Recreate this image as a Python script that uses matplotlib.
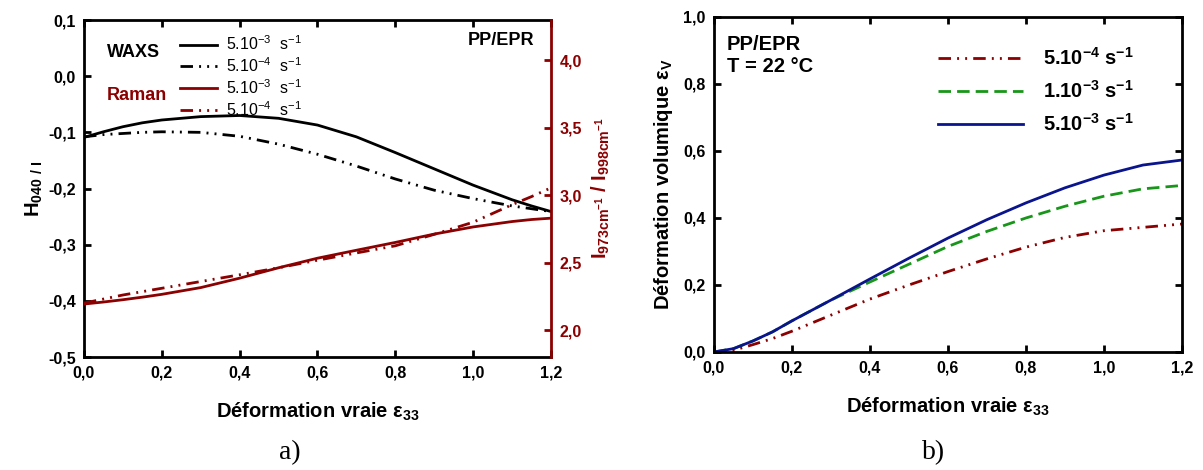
import matplotlib
matplotlib.use("Agg")
import matplotlib.pyplot as plt
from matplotlib.ticker import FixedLocator, FuncFormatter

plt.rcParams['font.family'] = ['Liberation Sans', 'DejaVu Sans']
plt.rcParams['font.weight'] = 'bold'
plt.rcParams['axes.labelweight'] = 'bold'

# ---- data, panel a ----
strain_a = [0.0, 0.05, 0.1, 0.15, 0.2, 0.3, 0.4, 0.5, 0.6, 0.7, 0.8, 0.9,
            1.0, 1.1, 1.15, 1.2]
waxs_5e3 = [-0.109, -0.099, -0.090, -0.083, -0.078, -0.072, -0.070, -0.075,
            -0.087, -0.108, -0.136, -0.165, -0.194, -0.220, -0.231, -0.241]
waxs_5e4 = [-0.108, -0.104, -0.102, -0.100, -0.099, -0.100, -0.107, -0.121,
            -0.139, -0.160, -0.183, -0.203, -0.218, -0.231, -0.236, -0.241]
raman_5e3 = [2.193, 2.208, 2.225, 2.244, 2.265, 2.315, 2.385, 2.462, 2.533,
             2.592, 2.650, 2.712, 2.765, 2.805, 2.820, 2.830]
raman_5e4 = [2.200, 2.230, 2.260, 2.285, 2.310, 2.360, 2.410, 2.462, 2.518,
             2.572, 2.625, 2.710, 2.800, 2.930, 2.990, 3.055]

# ---- data, panel b ----
strain_b = [0.0, 0.05, 0.1, 0.15, 0.2, 0.3, 0.4, 0.5, 0.6, 0.7, 0.8, 0.9,
            1.0, 1.1, 1.2]
ev_5e4 = [0.0, 0.005, 0.022, 0.040, 0.062, 0.110, 0.158, 0.200, 0.240, 0.278,
          0.313, 0.342, 0.362, 0.372, 0.382]
ev_1e3 = [0.0, 0.010, 0.033, 0.060, 0.093, 0.155, 0.209, 0.262, 0.315, 0.360,
          0.400, 0.435, 0.465, 0.487, 0.497]
ev_5e3 = [0.0, 0.010, 0.033, 0.060, 0.093, 0.155, 0.218, 0.280, 0.340, 0.395,
          0.445, 0.490, 0.528, 0.558, 0.573]

x_ticks = [0.0, 0.2, 0.4, 0.6, 0.8, 1.0, 1.2]
ya_ticks = [-0.5, -0.4, -0.3, -0.2, -0.1, 0.0, 0.1]
yr_ticks = [2.0, 2.5, 3.0, 3.5, 4.0]
yb_ticks = [0.0, 0.2, 0.4, 0.6, 0.8, 1.0]

RED = '#8B0000'
BLUE = '#0A148C'
GREEN = '#18961A'
DDOT = (0, (4.5, 2.2, 0.7, 2.2, 0.7, 2.2))


def comma(v, pos=None):
    s = f"{v:.1f}".replace('.', ',')
    return '0,0' if s == '-0,0' else s


def style(ax):
    for sp in ax.spines.values():
        sp.set_linewidth(2.0)
    ax.tick_params(direction='in', length=5, width=2, labelsize=11.5,
                   top=True, pad=6)
    for lab in ax.get_xticklabels() + ax.get_yticklabels():
        lab.set_fontweight('bold')


fig = plt.figure(figsize=(12.03, 4.70), dpi=100)

# ================= panel a =================
ax = fig.add_axes([0.0698, 0.2404, 0.3882, 0.717])
ax.plot(strain_a, waxs_5e3, color='black', lw=2.0, label='5.10$^{\\mathregular{-3}}$  s$^{\\mathregular{-1}}$')
ax.plot(strain_a, waxs_5e4, color='black', lw=2.0, ls=DDOT, label='5.10$^{\\mathregular{-4}}$  s$^{\\mathregular{-1}}$')
ax.set_xlim(0, 1.2)
ax.set_ylim(-0.5, 0.1)
ax.xaxis.set_major_locator(FixedLocator(x_ticks))
ax.yaxis.set_major_locator(FixedLocator(ya_ticks))
ax.xaxis.set_major_formatter(FuncFormatter(comma))
ax.yaxis.set_major_formatter(FuncFormatter(comma))
style(ax)
ax.tick_params(right=False)
ax.spines['right'].set_visible(False)
ax.set_xlabel('Déformation vraie ε$_{\\mathregular{33}}$', fontsize=14.5, labelpad=15)
ax.set_ylabel('H$_{\\mathregular{040\\ /\\ I}}$', fontsize=14.5, labelpad=2)

axr = ax.twinx()
axr.plot(strain_a, raman_5e3, color=RED, lw=2.0, label='5.10$^{\\mathregular{-3}}$  s$^{\\mathregular{-1}}$')
axr.plot(strain_a, raman_5e4, color=RED, lw=2.0, ls=DDOT, label='5.10$^{\\mathregular{-4}}$  s$^{\\mathregular{-1}}$')
axr.set_ylim(1.8, 4.3)
axr.yaxis.set_major_locator(FixedLocator(yr_ticks))
axr.yaxis.set_major_formatter(FuncFormatter(comma))
for sp in axr.spines.values():
    sp.set_visible(False)
axr.spines['right'].set_visible(True)
axr.spines['right'].set_linewidth(2.0)
axr.spines['right'].set_color(RED)
axr.tick_params(axis='y', direction='in', length=5, width=2, colors=RED,
                labelsize=11.5, pad=6)
for lab in axr.get_yticklabels():
    lab.set_fontweight('bold')
axr.set_ylabel('I$_{\\mathregular{973cm}^{\\mathregular{-1}}}$ / I$_{\\mathregular{998cm}^{\\mathregular{-1}}}$',
               color=RED, fontsize=14.5, labelpad=6)

h1, l1 = ax.get_legend_handles_labels()
h2, l2 = axr.get_legend_handles_labels()
leg = axr.legend(h1 + h2, l1 + l2, loc='upper left', bbox_to_anchor=(0.175, 1.0),
                 frameon=False, handlelength=2.3, handletextpad=0.6,
                 labelspacing=0.2, prop={'weight': 'normal', 'size': 11.5})
ax.text(0.049, 0.905, 'WAXS', transform=ax.transAxes, fontsize=13,
        fontweight='bold', va='center', ha='left')
ax.text(0.049, 0.775, 'Raman', transform=ax.transAxes, fontsize=13,
        fontweight='bold', va='center', ha='left', color=RED)
ax.text(0.965, 0.94, 'PP/EPR', transform=ax.transAxes, fontsize=13,
        fontweight='bold', va='center', ha='right')

# ================= panel b =================
bx = fig.add_axes([0.5935, 0.2511, 0.389, 0.7128])
bx.plot(strain_b, ev_5e4, color=RED, lw=2.0, ls=DDOT, label='5.10$^{\\mathregular{-4}}$ s$^{\\mathregular{-1}}$')
bx.plot(strain_b, ev_1e3, color=GREEN, lw=2.0, ls=(0, (4.5, 2.2)), label='1.10$^{\\mathregular{-3}}$ s$^{\\mathregular{-1}}$')
bx.plot(strain_b, ev_5e3, color=BLUE, lw=2.0, label='5.10$^{\\mathregular{-3}}$ s$^{\\mathregular{-1}}$')
bx.set_xlim(0, 1.2)
bx.set_ylim(0, 1.0)
bx.xaxis.set_major_locator(FixedLocator(x_ticks))
bx.yaxis.set_major_locator(FixedLocator(yb_ticks))
bx.xaxis.set_major_formatter(FuncFormatter(comma))
bx.yaxis.set_major_formatter(FuncFormatter(comma))
style(bx)
bx.tick_params(right=True)
bx.set_xlabel('Déformation vraie ε$_{\\mathregular{33}}$', fontsize=14.5, labelpad=15)
bx.set_ylabel('Déformation volumique ε$_{\\mathregular{V}}$', fontsize=14.5, labelpad=6)
bx.legend(loc='upper left', bbox_to_anchor=(0.44, 0.965), frameon=False,
          handlelength=4.2, handletextpad=1.0, labelspacing=0.55,
          prop={'weight': 'bold', 'size': 14.5})
bx.text(0.028, 0.945, 'PP/EPR\nT = 22 °C', transform=bx.transAxes, fontsize=14.5,
        fontweight='bold', va='top', ha='left', linespacing=1.15)

fig.text(0.241, 0.038, 'a)', fontsize=20, family=['Liberation Serif'],
         fontweight='normal', ha='center', va='center')
fig.text(0.776, 0.038, 'b)', fontsize=20, family=['Liberation Serif'],
         fontweight='normal', ha='center', va='center')

fig.savefig('out.png', dpi=100)
